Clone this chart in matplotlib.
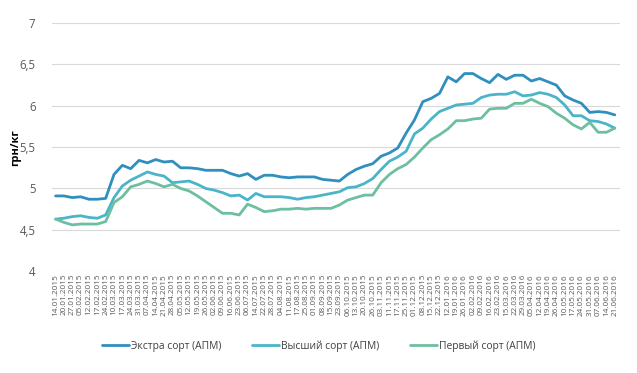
import matplotlib
matplotlib.use('Agg')
import matplotlib.pyplot as plt
from matplotlib.ticker import FuncFormatter

# weekly dates (x axis categories)
dates = [
    '14.01.2015', '20.01.2015', '27.01.2015', '05.02.2015', '12.02.2015', '17.02.2015',
    '24.02.2015', '10.03.2015', '17.03.2015', '24.03.2015', '31.03.2015', '07.04.2015',
    '14.04.2015', '21.04.2015', '28.04.2015', '05.05.2015', '12.05.2015', '19.05.2015',
    '26.05.2015', '02.06.2015', '09.06.2015', '16.06.2015', '23.06.2015', '06.07.2015',
    '14.07.2015', '22.07.2015', '28.07.2015', '04.08.2015', '11.08.2015', '17.08.2015',
    '25.08.2015', '01.09.2015', '08.09.2015', '15.09.2015', '23.09.2015', '06.10.2015',
    '13.10.2015', '20.10.2015', '26.10.2015', '03.11.2015', '11.11.2015', '17.11.2015',
    '25.11.2015', '01.12.2015', '08.12.2015', '15.12.2015', '22.12.2015', '12.01.2016',
    '19.01.2016', '26.01.2016', '02.02.2016', '09.02.2016', '16.02.2016', '23.02.2016',
    '15.03.2016', '22.03.2016', '29.03.2016', '05.04.2016', '12.04.2016', '19.04.2016',
    '26.04.2016', '10.05.2016', '17.05.2016', '24.05.2016', '31.05.2016', '07.06.2016',
    '14.06.2016', '21.06.2016',
]

# prices, UAH/kg
extra = [
    4.91, 4.91, 4.89, 4.90, 4.87, 4.87, 4.88, 5.17, 5.28, 5.24, 5.34, 5.31,
    5.35, 5.32, 5.33, 5.25, 5.25, 5.24, 5.22, 5.22, 5.22, 5.18, 5.15, 5.18,
    5.11, 5.16, 5.16, 5.14, 5.13, 5.14, 5.14, 5.14, 5.11, 5.10, 5.09, 5.17,
    5.23, 5.27, 5.30, 5.39, 5.43, 5.49, 5.67, 5.83, 6.05, 6.09, 6.15, 6.35,
    6.29, 6.39, 6.39, 6.33, 6.28, 6.38, 6.32, 6.37, 6.37, 6.30, 6.33, 6.29,
    6.25, 6.12, 6.07, 6.03, 5.92, 5.93, 5.92, 5.89,
]
vysshiy = [
    4.63, 4.64, 4.66, 4.67, 4.65, 4.64, 4.68, 4.89, 5.03, 5.10, 5.15, 5.20,
    5.17, 5.15, 5.07, 5.08, 5.09, 5.05, 5.00, 4.98, 4.95, 4.91, 4.92, 4.86,
    4.94, 4.90, 4.90, 4.90, 4.89, 4.87, 4.89, 4.90, 4.92, 4.94, 4.96, 5.01,
    5.02, 5.06, 5.12, 5.23, 5.33, 5.38, 5.45, 5.66, 5.73, 5.84, 5.93, 5.97,
    6.01, 6.02, 6.03, 6.10, 6.13, 6.14, 6.14, 6.17, 6.12, 6.13, 6.16, 6.14,
    6.10, 6.01, 5.88, 5.88, 5.82, 5.81, 5.78, 5.73,
]
perviy = [
    4.63, 4.59, 4.56, 4.57, 4.57, 4.57, 4.60, 4.83, 4.90, 5.02, 5.05, 5.09,
    5.06, 5.02, 5.05, 5.00, 4.97, 4.91, 4.84, 4.77, 4.70, 4.70, 4.68, 4.81,
    4.77, 4.72, 4.73, 4.75, 4.75, 4.76, 4.75, 4.76, 4.76, 4.76, 4.80, 4.86,
    4.89, 4.92, 4.92, 5.07, 5.17, 5.24, 5.29, 5.38, 5.49, 5.59, 5.65, 5.72,
    5.82, 5.82, 5.84, 5.85, 5.96, 5.97, 5.97, 6.03, 6.03, 6.08, 6.03, 5.99,
    5.91, 5.85, 5.77, 5.72, 5.80, 5.68, 5.68, 5.73,
]

series = [
    ('Экстра сорт (АПМ)', extra, '#2f8fbf'),
    ('Высший сорт (АПМ)', vysshiy, '#4ab4c8'),
    ('Первый сорт (АПМ)', perviy, '#6cbf9f'),
]

plt.rcParams['font.family'] = ['Open Sans', 'DejaVu Sans']

fig = plt.figure(figsize=(6.37, 3.73), dpi=100)
ax = fig.add_axes([0.082, 0.273, 0.891, 0.665])

x = list(range(len(dates)))
for name, vals, col in series:
    ax.plot(x, vals, color=col, lw=2.0, label=name, solid_capstyle='round')

ax.set_ylim(4, 7)
ax.set_yticks([4, 4.5, 5, 5.5, 6, 6.5, 7])
ax.yaxis.set_major_formatter(FuncFormatter(lambda v, p: f'{v:g}'.replace('.', ',')))
ax.set_xlim(-0.4, len(dates) - 0.4)
ax.set_xticks(x)
ax.set_xticklabels(dates, rotation=90, fontsize=5.9, color='#595959')
ax.tick_params(axis='y', labelsize=8.3, colors='#595959', length=0, pad=12)
ax.tick_params(axis='x', length=0, pad=2)
ax.grid(axis='y', color='#d9d9d9', lw=0.8)
ax.set_axisbelow(True)
for s in ax.spines.values():
    s.set_visible(False)

ax.set_ylabel('грн/кг', fontsize=8, fontweight='bold', color='black')
ax.yaxis.set_label_coords(-0.055, 0.5)

fig.legend(loc='center', bbox_to_anchor=(0.5, 0.073), ncol=3, frameon=False,
           fontsize=7.4, handlelength=2.6, handletextpad=0.2, columnspacing=3.0,
           labelcolor='#404040')

fig.savefig('out.png', dpi=100)
